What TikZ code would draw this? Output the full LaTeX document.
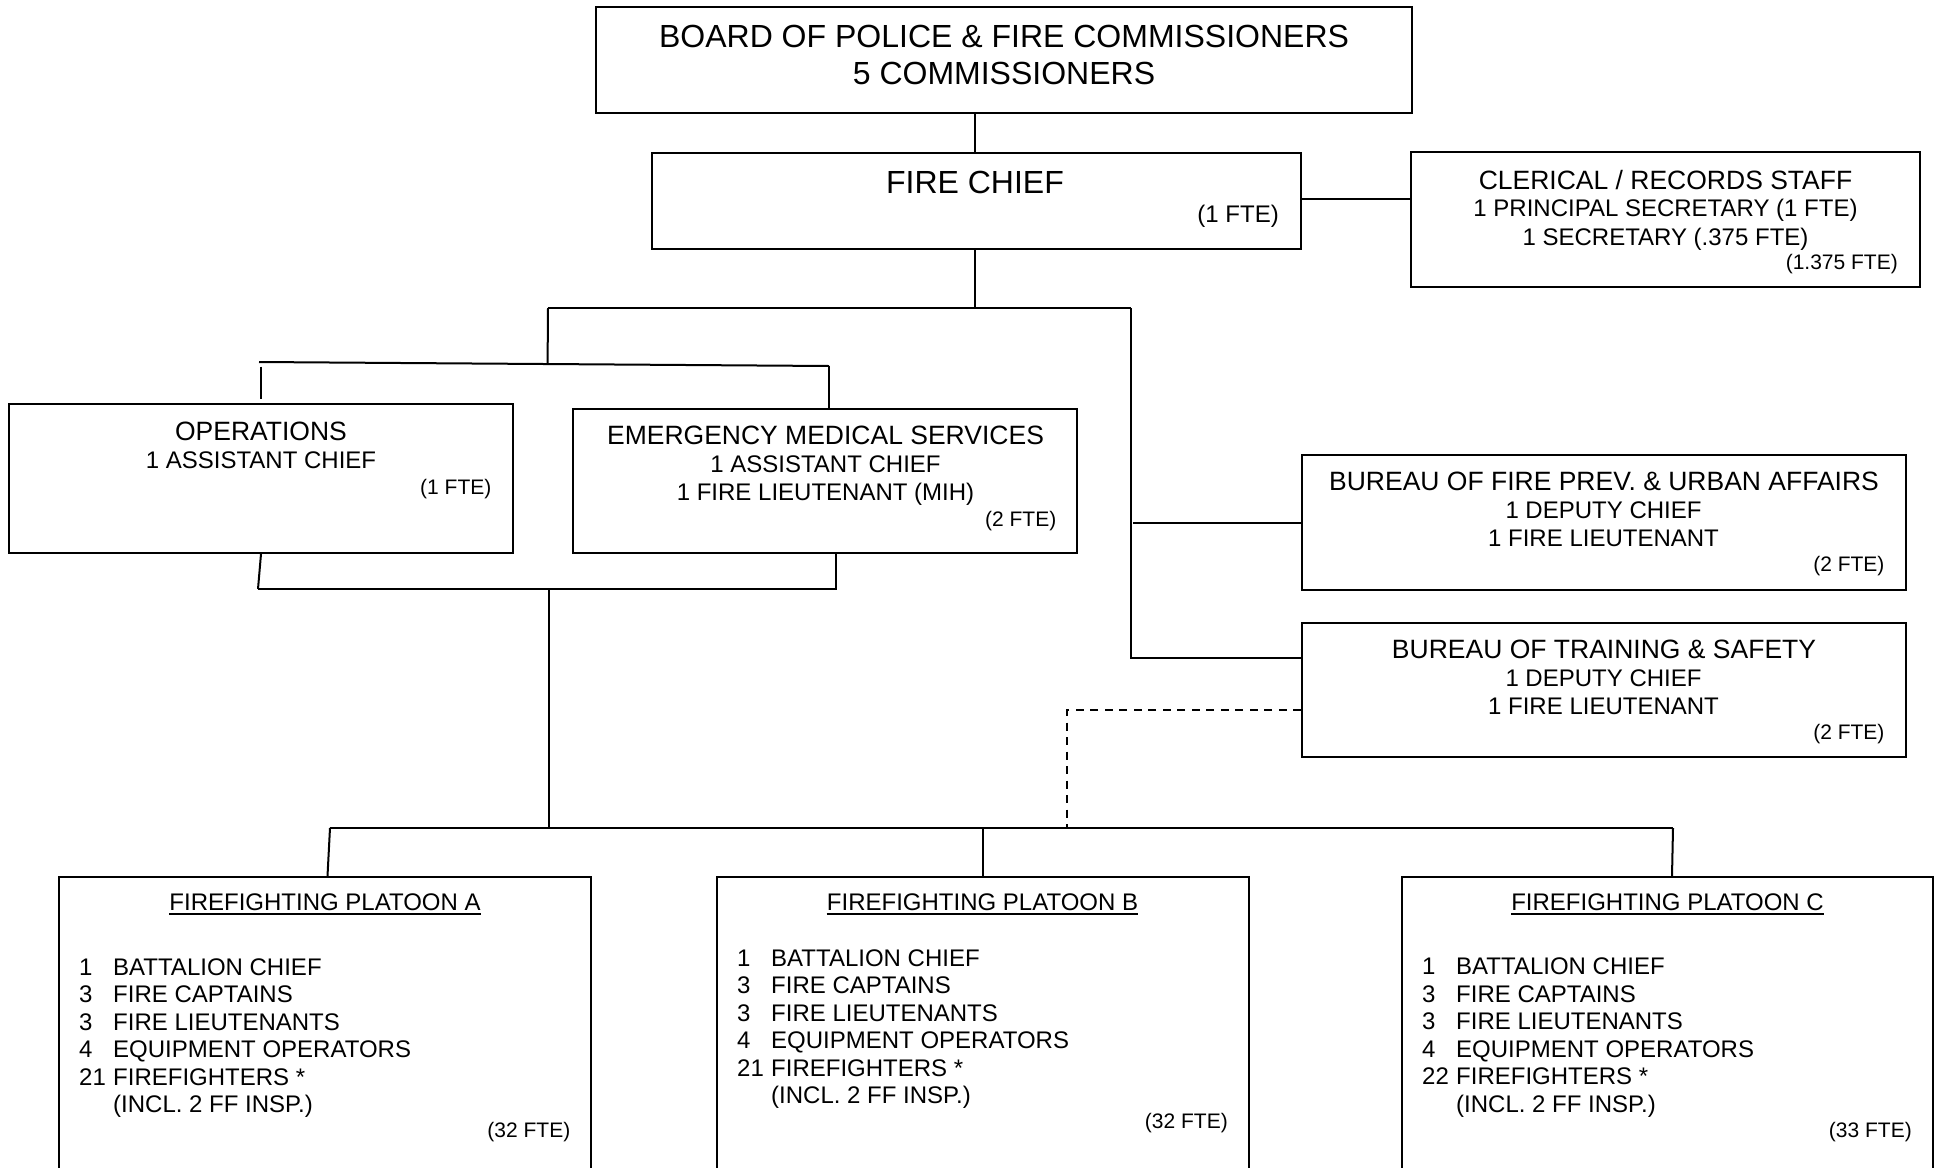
\documentclass[tikz,border=0pt]{standalone}
\usepackage{fontspec}
\setmainfont{Liberation Sans}
\usetikzlibrary{fit,calc}
\newcommand\szA{\fontsize{32}{38}\selectfont}
\newcommand\szB{\fontsize{26.5}{32}\selectfont}
\newcommand\szC{\fontsize{24}{28}\selectfont}
\newcommand\szD{\fontsize{21}{25}\selectfont}
\newcommand\mkplatoon[5]{%
  \foreach \n/\t [count=\i from 0] in {1/BATTALION CHIEF,3/FIRE CAPTAINS,3/FIRE LIEUTENANTS,4/EQUIPMENT OPERATORS,#5/FIREFIGHTERS *,{}/(INCL. 2 FF INSP.)}{%
    \node[lbl, anchor=base west, font=\szC] (#1n\i) at (#2,#4+27.5*\i) {\n};
    \node[lbl, anchor=base west, font=\szC] (#1t\i) at (#3,#4+27.5*\i) {\t};
  }}
\begin{document}
\begin{tikzpicture}[x=1pt,y=-1pt,
  box/.style={draw, line width=2pt, inner sep=0pt},
  lbl/.style={inner sep=0pt, anchor=base},
  rl/.style={inner sep=0pt, anchor=base east, font=\szD},
  conn/.style={line width=2pt},
  dconn/.style={line width=2pt, dash pattern=on 8pt off 6.5pt}]
\useasboundingbox (0,0) rectangle (1934,1167);
\fill[white] (0,0) rectangle (1934,1167);
\clip (0,0) rectangle (1934,1167);

% boxes
\node[box, fit={(596,7) (1412,113)}] (board) {};
\node[box, fit={(652,153) (1301,249)}] (chief) {};
\node[box, fit={(1411,152) (1920,287)}] (clerical) {};
\node[box, fit={(9,404) (513,553)}] (ops) {};
\node[box, fit={(573,409) (1077,553)}] (ems) {};
\node[box, fit={(1302,455) (1906,590)}] (prev) {};
\node[box, fit={(1302,623) (1906,757)}] (train) {};
\node[box, fit={(59,877) (591,1190)}] (pA) {};
\node[box, fit={(717,877) (1249,1190)}] (pB) {};
\node[box, fit={(1402,877) (1933,1190)}] (pC) {};

% texts
\node[lbl, font=\szA] (board1) at (1004,47.8) {BOARD OF POLICE \& FIRE COMMISSIONERS};
\node[lbl, font=\szA] (board2) at (1004,84.2) {5 COMMISSIONERS};

\node[lbl, font=\szA] (chief1) at (975,193.5) {FIRE CHIEF};
\node[rl, font=\szC] (chief2) at (1279,222.5) {(1 FTE)};

\node[lbl, font=\szB] (cler1) at (1665.5,189) {CLERICAL / RECORDS STAFF};
\node[lbl, font=\szC] (cler2) at (1665.5,216.5) {1 PRINCIPAL SECRETARY (1 FTE)};
\node[lbl, font=\szC] (cler3) at (1665.5,245) {1 SECRETARY (.375 FTE)};
\node[rl] (cler4) at (1898,269) {(1.375 FTE)};

\node[lbl, font=\szB] (ops1) at (261,440) {OPERATIONS};
\node[lbl, font=\szC] (ops2) at (261,468) {1 ASSISTANT CHIEF};
\node[rl] (ops3) at (491.6,494) {(1 FTE)};

\node[lbl, font=\szB] (ems1) at (825.5,444) {EMERGENCY MEDICAL SERVICES};
\node[lbl, font=\szC] (ems2) at (825.5,472) {1 ASSISTANT CHIEF};
\node[lbl, font=\szC] (ems3) at (825.5,500.3) {1 FIRE LIEUTENANT (MIH)};
\node[rl] (ems4) at (1056.5,526.8) {(2 FTE)};

\node[lbl, font=\szB] (prev1) at (1604,490) {BUREAU OF FIRE PREV. \& URBAN AFFAIRS};
\node[lbl, font=\szC] (prev2) at (1603.5,518.6) {1 DEPUTY CHIEF};
\node[lbl, font=\szC] (prev3) at (1603.5,546.4) {1 FIRE LIEUTENANT};
\node[rl] (prev4) at (1884.6,571.5) {(2 FTE)};

\node[lbl, font=\szB] (train1) at (1604,658.5) {BUREAU OF TRAINING \& SAFETY};
\node[lbl, font=\szC] (train2) at (1603.5,686) {1 DEPUTY CHIEF};
\node[lbl, font=\szC] (train3) at (1603.5,714.6) {1 FIRE LIEUTENANT};
\node[rl] (train4) at (1884.6,739.5) {(2 FTE)};

\node[lbl, font=\szC] (pAt) at (325,910.6) {FIREFIGHTING PLATOON A};
\node[lbl, font=\szC] (pBt) at (982.5,910.6) {FIREFIGHTING PLATOON B};
\node[lbl, font=\szC] (pCt) at (1667.5,910.6) {FIREFIGHTING PLATOON C};
\foreach \p in {pAt,pBt,pCt}
  \draw[line width=1.8pt] ([yshift=-3pt]\p.base west) -- ([yshift=-3pt]\p.base east);

\mkplatoon{pA}{79}{113}{975}{21}
\mkplatoon{pB}{737}{771}{966}{21}
\mkplatoon{pC}{1422}{1456}{974.6}{22}
\node[rl] (pAf) at (570.5,1137.8) {(32 FTE)};
\node[rl] (pBf) at (1228,1128.5) {(32 FTE)};
\node[rl] (pCf) at (1912,1137.5) {(33 FTE)};

% connectors
\coordinate (h1) at (975,308);
\coordinate (h1l) at (548,308);
\coordinate (h1r) at (1131,308);
\coordinate (b1) at (259,362);
\coordinate (b2) at (829,366);
\coordinate (d1) at (261,366.5);
\coordinate (c1) at (258,589);
\coordinate (c2) at (837,589);
\coordinate (c3) at (548.5,589);
\coordinate (c4) at (548.5,828);
\coordinate (e1) at (330,828);
\coordinate (e2) at (1673,828);
\coordinate (dd) at (1067,828);

\draw[conn] ([xshift=-2pt]chief.north) -- ([xshift=-2pt]chief.north |- board.south);
\draw[conn] ([yshift=2pt]chief.east) -- ([yshift=2pt]chief.east -| clerical.west);
\draw[conn] (chief.south -| h1) -- (h1);
\draw[conn] (h1l) -- (h1r);
\draw[conn] (h1r) |- ([yshift=-36pt]train.north west);
\draw[conn] ([xshift=2pt]h1r |- prev.west) -- (prev.west);
\draw[conn] (h1l) -- ($(b1)!(h1l)!(b2)$);
\draw[conn] (b1) -- (b2);
\draw[conn] (d1) -- ([yshift=4pt]ops.north);
\draw[conn] (b2) -- (b2 |- ems.north);
\draw[conn] (ops.south) -- (c1);
\draw[conn] ([xshift=10.5pt]ems.south) -- ([xshift=10.5pt]ems.south |- c2);
\draw[conn] (c1) -- (c2);
\draw[conn] (c3) -- (c4);
\draw[conn] (e1) -- (e2);
\draw[conn] (e1) -- ([xshift=2.5pt]pA.north);
\draw[conn] (pB.north |- e1) -- (pB.north);
\draw[conn] (e2) -- ([xshift=4.5pt]pC.north);
\draw[dconn] ([yshift=-88pt]train.north west) -| (dd);
\end{tikzpicture}
\end{document}
